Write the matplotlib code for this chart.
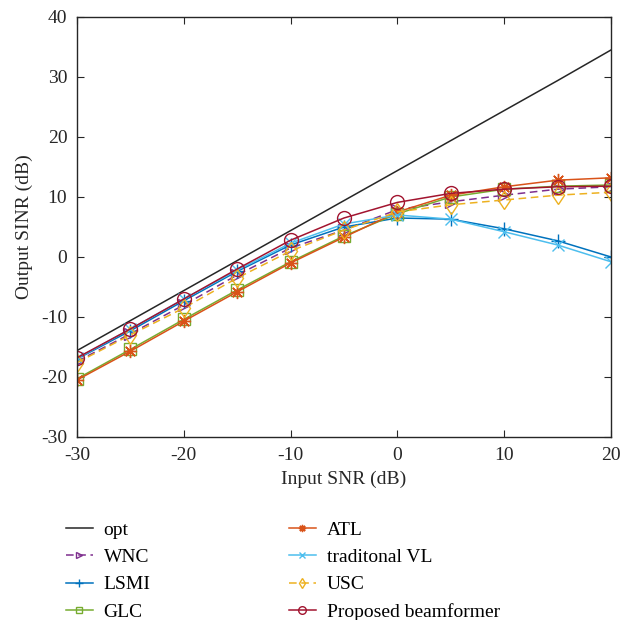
import numpy as np
import matplotlib.pyplot as plt

plt.rcParams['font.family'] = ['Liberation Serif', 'DejaVu Serif']
plt.rcParams['axes.unicode_minus'] = False

snr = [-30, -25, -20, -15, -10, -5, 0, 5, 10, 15, 20]

opt = [-15.6, -10.6, -5.6, -0.6, 4.4, 9.4, 14.4, 19.4, 24.4, 29.4, 34.5]
wnc = [-17.4, -12.8, -8.0, -3.0, 1.5, 4.5, 7.9, 9.2, 10.3, 11.3, 11.7]
lsmi = [-17.0, -12.3, -7.3, -2.4, 2.0, 5.0, 6.5, 6.3, 4.7, 2.7, 0.0]
glc = [-20.3, -15.4, -10.4, -5.5, -0.8, 3.5, 7.2, 10.0, 11.3, 11.8, 12.0]
atl = [-20.5, -15.7, -10.7, -5.8, -1.0, 3.3, 7.5, 10.3, 11.7, 12.8, 13.2]
tvl = [-16.9, -12.0, -7.0, -2.2, 2.3, 5.5, 7.0, 6.3, 4.2, 2.0, -0.8]
usc = [-17.6, -13.0, -8.5, -3.5, 1.0, 4.5, 7.5, 8.7, 9.5, 10.3, 10.8]
prop = [-16.8, -12.0, -7.0, -2.0, 2.8, 6.5, 9.1, 10.6, 11.3, 11.7, 11.8]

fig = plt.figure(figsize=(6.34, 6.2), dpi=100)
ax = fig.add_axes([0.1215, 0.2952, 0.8422, 0.6774])

lw = 1.1
ms = 8.5
ax.plot(snr, opt, color='#262626', lw=lw, label='opt')
ax.plot(snr, wnc, color='#7E2F8E', lw=lw, ls=(0, (5, 3)), marker='>', ms=ms,
        mfc='none', label='WNC')
ax.plot(snr, lsmi, color='#0072BD', lw=lw, marker='+', ms=ms + 2, label='LSMI')
ax.plot(snr, glc, color='#77AC30', lw=lw, marker='s', ms=ms, mfc='none', label='GLC')
ax.plot(snr, atl, color='#D95319', lw=lw, marker=(8, 2, 0), ms=ms + 1, label='ATL')
ax.plot(snr, tvl, color='#4DBEEE', lw=lw, marker='x', ms=ms, label='traditonal VL')
ax.plot(snr, usc, color='#EDB120', lw=lw, ls=(0, (5, 3)), marker='d', ms=ms + 1,
        mfc='none', label='USC')
ax.plot(snr, prop, color='#A2142F', lw=lw, marker='o', ms=ms + 1.5, mfc='none',
        label='Proposed beamformer')

ax.set_xlim(-30, 20)
ax.set_ylim(-30, 40)
ax.set_xticks(np.arange(-30, 21, 10))
ax.set_yticks(np.arange(-30, 41, 10))
ax.tick_params(direction='in', top=True, right=True, labelsize=14, length=5,
               color='#262626', labelcolor='#262626')
ax.tick_params(axis='y', pad=7)
ax.tick_params(axis='x', pad=7)
for s in ax.spines.values():
    s.set_color('#262626')
    s.set_linewidth(1.0)
ax.set_xlabel('Input SNR (dB)', fontsize=14, color='#262626', labelpad=5)
ax.set_ylabel('Output SINR (dB)', fontsize=14, color='#262626', labelpad=6)

fig.legend(loc='upper left', bbox_to_anchor=(0.0915, 0.172), ncol=2, frameon=False,
           fontsize=14, markerscale=0.55, handlelength=1.4, handletextpad=0.55,
           columnspacing=7.1, labelspacing=0.5, borderaxespad=0)

fig.savefig('out.png', dpi=100)
